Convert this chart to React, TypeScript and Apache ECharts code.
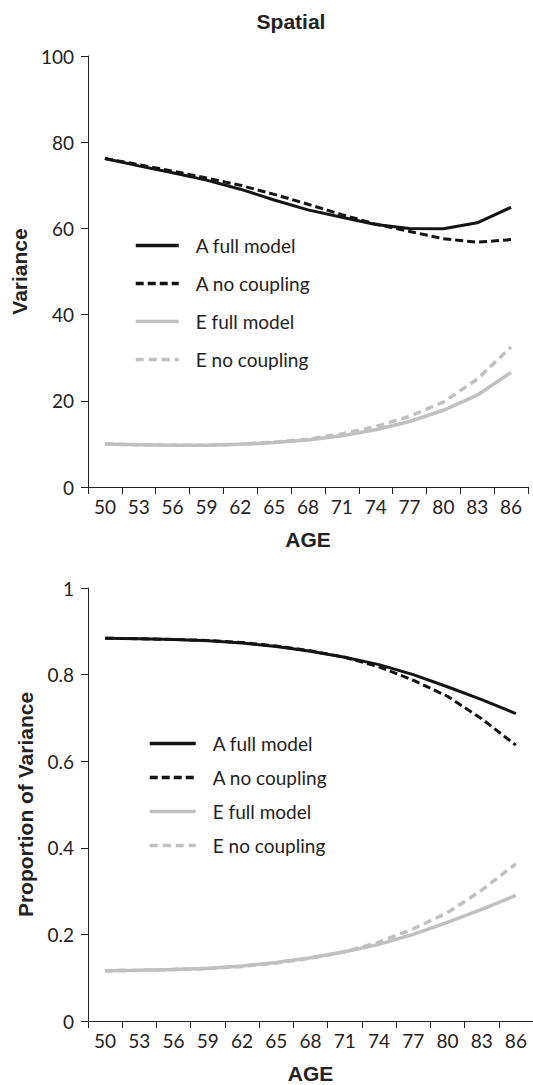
import React, { useEffect, useRef } from "react";
import * as echarts from "echarts";

const ages = ["50", "53", "56", "59", "62", "65", "68", "71", "74", "77", "80", "83", "86"];

const seriesNames = ["A full model", "A no coupling", "E full model", "E no coupling"];

// Top panel: Variance
const varAFull = [76.2, 74.5, 72.9, 71.2, 69.1, 66.6, 64.3, 62.6, 60.9, 60.0, 59.9, 61.3, 64.9];
const varANo = [76.2, 74.8, 73.3, 71.7, 70.0, 67.9, 65.6, 63.2, 61.0, 59.3, 57.6, 56.8, 57.4];
const varEFull = [10.0, 9.8, 9.7, 9.7, 9.9, 10.3, 10.9, 11.9, 13.3, 15.2, 17.8, 21.3, 26.6];
const varENo = [10.0, 9.8, 9.7, 9.7, 9.9, 10.4, 11.1, 12.3, 14.0, 16.4, 19.7, 25.0, 32.5];

// Bottom panel: Proportion of Variance
const propAFull = [0.884, 0.883, 0.881, 0.878, 0.873, 0.865, 0.854, 0.84, 0.823, 0.8, 0.772, 0.742, 0.71];
const propANo = [0.884, 0.883, 0.881, 0.879, 0.874, 0.866, 0.855, 0.84, 0.818, 0.787, 0.75, 0.698, 0.637];
const propEFull = [0.116, 0.117, 0.119, 0.122, 0.127, 0.135, 0.146, 0.16, 0.177, 0.2, 0.228, 0.258, 0.29];
const propENo = [0.116, 0.117, 0.119, 0.121, 0.126, 0.134, 0.145, 0.16, 0.182, 0.213, 0.25, 0.302, 0.363];

const BLACK = "#141414";
const GRAY = "#c0c0c0";
const AXIS = "#222222";
const LABEL_FONT = "Lato";
const BOLD_FONT = "Liberation Sans";

function styleFor(i: number) {
  const isA = i < 2;
  const dashed = i % 2 === 1;
  return {
    color: isA ? BLACK : GRAY,
    width: isA ? 3 : 3.5,
    type: dashed ? (isA ? [8, 4] : [8, 5]) : "solid",
  };
}

export default function App() {
  const ref = useRef<HTMLDivElement>(null);

  useEffect(() => {
    if (!ref.current) return;
    const chart = echarts.init(ref.current, undefined, { renderer: "svg" });

    const xAxisBase = (gridIndex: number) => ({
      type: "category",
      gridIndex,
      data: ages,
      boundaryGap: true,
      axisLine: { show: true, lineStyle: { color: AXIS, width: 1 } },
      axisTick: { show: true, length: 7, interval: 0, lineStyle: { color: AXIS } },
      axisLabel: { interval: 0, margin: 10, fontSize: 19, fontFamily: LABEL_FONT, color: AXIS },
      name: "AGE",
      nameLocation: "middle",
      nameGap: 42,
      nameTextStyle: { fontFamily: BOLD_FONT, fontWeight: "bold", fontSize: 21, color: AXIS },
      splitLine: { show: false },
    });

    const yAxisBase = (gridIndex: number, max: number, interval: number, name: string) => ({
      type: "value",
      gridIndex,
      min: 0,
      max,
      interval,
      axisLine: { show: true, lineStyle: { color: AXIS, width: 1 } },
      axisTick: { show: true, length: 7, lineStyle: { color: AXIS } },
      axisLabel: { margin: 14, fontSize: 19, fontFamily: LABEL_FONT, color: AXIS },
      splitLine: { show: false },
      name,
      nameLocation: "middle",
      nameGap: 52,
      nameTextStyle: { fontFamily: BOLD_FONT, fontWeight: "bold", fontSize: 21, color: AXIS },
    });

    const topData = [varAFull, varANo, varEFull, varENo];
    const botData = [propAFull, propANo, propEFull, propENo];

    const series: any[] = [];
    [topData, botData].forEach((group, g) => {
      group.forEach((d, i) => {
        const ls = styleFor(i);
        series.push({
          name: seriesNames[i],
          type: "line",
          xAxisIndex: g,
          yAxisIndex: g,
          data: d,
          symbol: "none",
          showSymbol: false,
          lineStyle: ls,
          itemStyle: { color: ls.color },
          z: i < 2 ? 3 : 2,
        });
      });
    });

    const legendBase = (left: number, top: number, w: number, gap: number) => ({
      data: seriesNames,
      orient: "vertical",
      left,
      top,
      itemWidth: w,
      itemHeight: 14,
      itemGap: gap,
      selectedMode: false,
      itemStyle: { opacity: 0 },
      lineStyle: { width: 3.5 },
      textStyle: { fontFamily: LABEL_FONT, fontSize: 19, color: AXIS, padding: [0, 0, 0, 12] },
    });

    chart.setOption({
      animation: false,
      backgroundColor: "#ffffff",
      grid: [
        { left: 88, top: 56, width: 440, height: 431 },
        { left: 88, top: 588, width: 450, height: 434 },
      ],
      xAxis: [xAxisBase(0), xAxisBase(1)],
      yAxis: [yAxisBase(0, 100, 20, "Variance"), yAxisBase(1, 1, 0.2, "Proportion of Variance")],
      legend: [legendBase(129, 231, 43, 19), legendBase(143, 729, 46, 15)],
      series,
      graphic: [
        {
          type: "text",
          x: 291,
          y: 21,
          style: {
            text: "Spatial",
            textAlign: "center",
            textVerticalAlign: "middle",
            fontFamily: BOLD_FONT,
            fontWeight: "bold",
            fontSize: 21,
            fill: AXIS,
          },
        },
      ],
    });

    return () => chart.dispose();
  }, []);

  return (
    <div
      ref={ref}
      style={{ position: "absolute", left: 0, top: 0, width: 533, height: 1085, background: "#fff" }}
    />
  );
}
